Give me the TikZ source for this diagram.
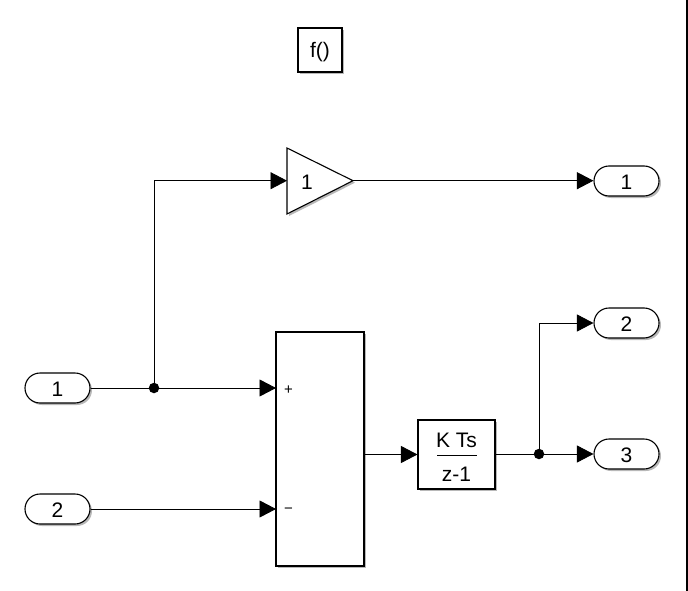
\documentclass[tikz,border=0pt]{standalone}
\usepackage{fontspec}
\setmainfont{Liberation Sans}
\usetikzlibrary{arrows.meta,shapes.misc,calc,shadows}
\tikzset{
  x=1pt,y=-1pt,
  soft/.style={drop shadow={shadow xshift=2pt,shadow yshift=-2pt,fill=black,opacity=.28}},
  blk/.style={draw=black,line width=1.1pt,fill=white,inner sep=0pt,font=\fontsize{21}{25}\selectfont,soft},
  port/.style={blk,rounded rectangle,minimum width=65pt,minimum height=30pt,text width=20pt,align=center,text height=16.8pt,text depth=0pt},
  box/.style={blk,rectangle},
  wire/.style={draw=black,line width=0.85pt},
  sig/.style={wire,-{Triangle[length=16.5pt,width=17pt]}},
  dot/.style={circle,fill=black,inner sep=0pt,minimum size=10.5pt},
  sign/.style={font=\fontsize{15}{18}\selectfont,inner sep=0pt},
  txt/.style={font=\fontsize{21}{25}\selectfont,inner sep=0pt},
}
\begin{document}
\begin{tikzpicture}
\useasboundingbox (0,0) rectangle (688,591);
\fill[white] (0,0) rectangle (688,591);
\fill[black] (685.7,0) rectangle (688,591);
\node[box,minimum width=44pt,minimum height=44pt,text height=14.4pt,text depth=0pt] (f) at (320,50) {f()};
\path[blk,draw] (287,148) -- (353,180.7) -- (287,214) -- cycle;
\coordinate (gainin) at (287,180.7);
\coordinate (gainout) at (353,180.7);
\node[txt] (gainlabel) at (307,182) {1};
\node[port] (in1) at (57.5,388) {1};
\node[port] (in2) at (57.5,509) {2};
\node[port] (out1) at (626.5,181) {1};
\node[port] (out2) at (626.5,323) {2};
\node[port] (out3) at (626.5,454) {3};
\node[box,minimum width=88pt,minimum height=234pt] (sum) at (320,449) {};
\node[box,minimum width=77pt,minimum height=69pt] (int) at (456.5,454.5) {};
\node[txt] (ints) at (456.5,440.5) {K Ts};
\node[txt] (intz) at (456.5,474) {z-1};
\draw[wire] (437,455) -- (477,455);
\node[sign] (plus) at (288.5,390.5) {+};
\node[sign] (minus) at (288.5,510.5) {−};
\node[dot] (j1) at (154,388) {};
\node[dot] (j2) at (539,454) {};
\draw[sig] (in1.east) -- (276,388);
\draw[sig] (in2.east) -- (276,509);
\draw[sig] (j1.center) |- (gainin);
\draw[sig] (gainout) -- (out1.west |- gainout);
\draw[sig] (sum.east |- int.west) -- (int.west);
\draw[wire] (int.east |- j2) -- (j2.center);
\draw[sig] (j2.center) -- (out3.west);
\draw[sig] (j2.center) |- (out2.west);
\end{tikzpicture}
\end{document}
